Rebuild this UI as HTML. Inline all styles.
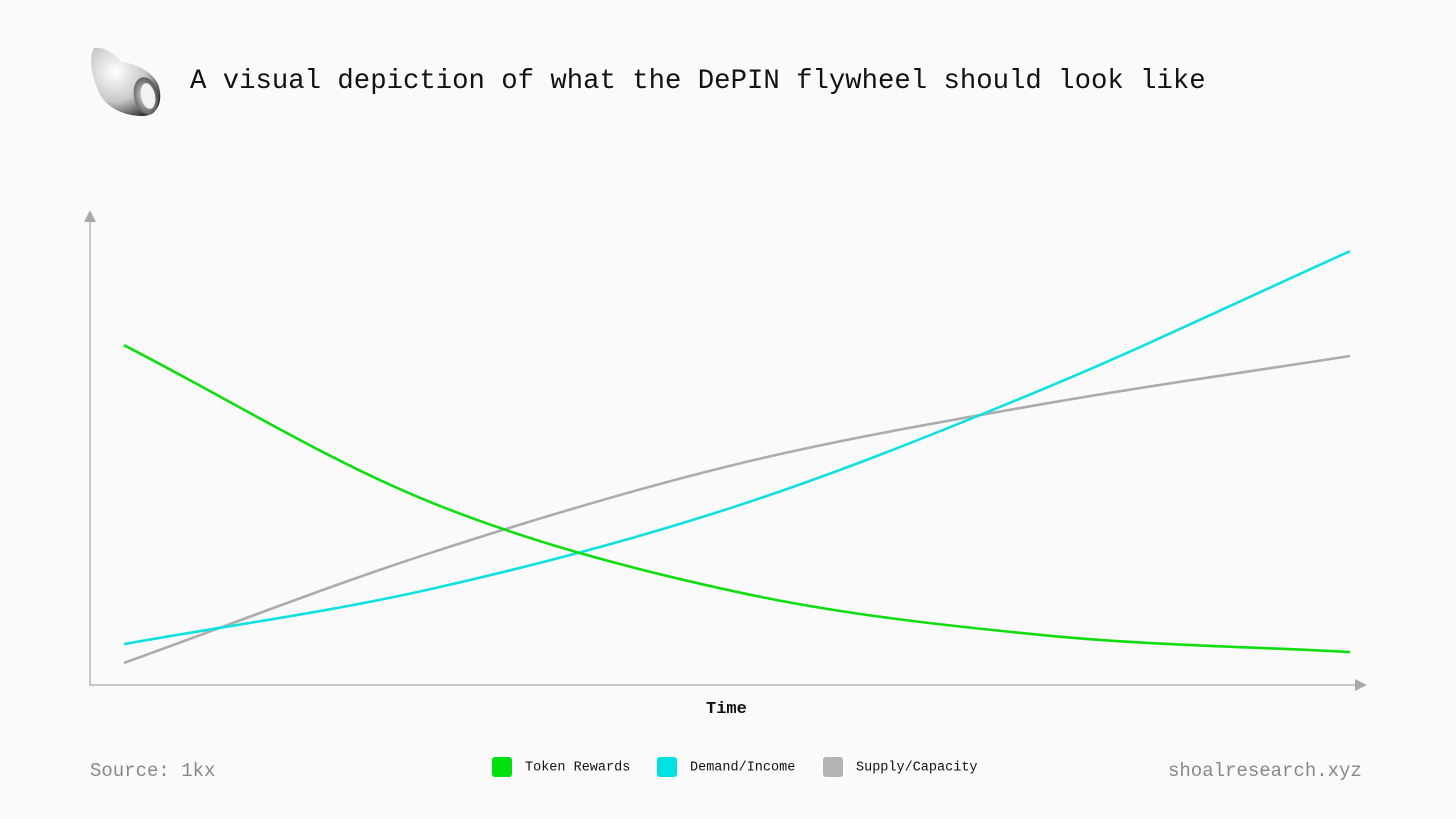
<!DOCTYPE html>
<html><head><meta charset="utf-8"><style>
html,body{margin:0;padding:0;background:#fafafa;}
body{width:1456px;height:819px;position:relative;overflow:hidden;font-family:"Liberation Mono",monospace;}
.t{position:absolute;white-space:nowrap;}
</style></head><body>
<svg style="position:absolute;left:86px;top:44px" width="80" height="76" viewBox="0 0 80 76">
<defs><radialGradient id="g1" cx="0.35" cy="0.35" r="0.8"><stop offset="0" stop-color="#fff"/><stop offset="0.55" stop-color="#c8c8c8"/><stop offset="1" stop-color="#1a1a1a"/></radialGradient>
<radialGradient id="g2" cx="0.45" cy="0.5" r="0.6"><stop offset="0" stop-color="#e8e8e8"/><stop offset="1" stop-color="#444"/></radialGradient></defs>
<path d="M8 4 C18 2 28 10 36 18 C52 20 66 28 72 40 C78 56 72 72 56 72 C36 72 18 62 12 46 C6 32 2 16 8 4Z" fill="url(#g1)"/>
<ellipse cx="60" cy="52" rx="12" ry="19" transform="rotate(-12 60 52)" fill="url(#g2)"/>
<ellipse cx="62" cy="52" rx="7" ry="13" transform="rotate(-12 62 52)" fill="#f2f2f2"/>
</svg>
<div class="t" style="left:190px;top:66px;font-size:27.3px;color:#111;">A visual depiction of what the DePIN flywheel should look like</div>
<svg id="chart" style="position:absolute;left:0;top:0" width="1456" height="819"></svg>
<div class="t" style="left:706px;top:700px;font-size:17px;font-weight:bold;color:#111;">Time</div>
<div class="t" style="left:90px;top:760px;font-size:19px;color:#888;">Source: 1kx</div>
<div class="t" style="left:1168px;top:760px;font-size:19px;color:#888;">shoalresearch.xyz</div>
<div style="position:absolute;left:492px;top:757px;height:22px;font-size:13.5px;color:#111;">
 <div class="t" style="left:0;top:0"><span style="display:inline-block;width:20px;height:20px;background:#00e00e;border-radius:3px;vertical-align:middle;margin-right:13px"></span>Token Rewards</div>
 <div class="t" style="left:165px;top:0"><span style="display:inline-block;width:20px;height:20px;background:#00e2e2;border-radius:3px;vertical-align:middle;margin-right:13px"></span>Demand/Income</div>
 <div class="t" style="left:331px;top:0"><span style="display:inline-block;width:20px;height:20px;background:#b3b3b3;border-radius:3px;vertical-align:middle;margin-right:13px"></span>Supply/Capacity</div>
</div>
<script>
const times=[0,25,50,75,100];
const tokenRewards=[72.3,38.9,19.8,10.6,7.0];
const demandIncome=[8.7,20.4,38.1,63.0,92.3];
const supplyCapacity=[4.7,28.1,47.0,59.8,70.0];
const NS='http://www.w3.org/2000/svg';
const svg=document.getElementById('chart');
const xS=v=>124+(v/100)*1226;
const yS=v=>685-v*4.7;
function mk(t,a){const e=document.createElementNS(NS,t);for(const k in a)e.setAttribute(k,a[k]);svg.appendChild(e);return e;}
let ax=mk('path',{d:'M90 220 V685 H1358',stroke:'#aaa','stroke-width':1.3,fill:'none'});


let ay=mk('path',{d:'M84 222 L90 210 L96 222Z',fill:'#aaa'});


let axr=mk('path',{d:'M1355 679 L1367 685 L1355 691Z',fill:'#aaa'});


function line(vals,color,name){
 const p=times.map((t,i)=>[xS(t),yS(vals[i])]);
 const n=p.length;
 // extrapolate end control points for natural ends
 const pre=[2*p[0][0]-p[1][0],2*p[0][1]-p[1][1]];
 const post=[2*p[n-1][0]-p[n-2][0],2*p[n-1][1]-p[n-2][1]];
 let d='M'+p[0][0]+' '+p[0][1];
 for(let i=0;i<n-1;i++){
  const p0=i>0?p[i-1]:pre,p1=p[i],p2=p[i+1],p3=i+2<n?p[i+2]:post;
  const c1=[p1[0]+(p2[0]-p0[0])/6,p1[1]+(p2[1]-p0[1])/6];
  const c2=[p2[0]-(p3[0]-p1[0])/6,p2[1]-(p3[1]-p1[1])/6];
  d+=` C${c1[0]} ${c1[1]} ${c2[0]} ${c2[1]} ${p2[0]} ${p2[1]}`;
 }
 const e=mk('path',{d:d,stroke:color,'stroke-width':2.6,fill:'none'});
 
 
}
line(supplyCapacity,'#acacac','supply-capacity-line');
line(demandIncome,'#10e0e0','demand-income-line');
line(tokenRewards,'#10dd10','token-rewards-line');
</script>
</body></html>
